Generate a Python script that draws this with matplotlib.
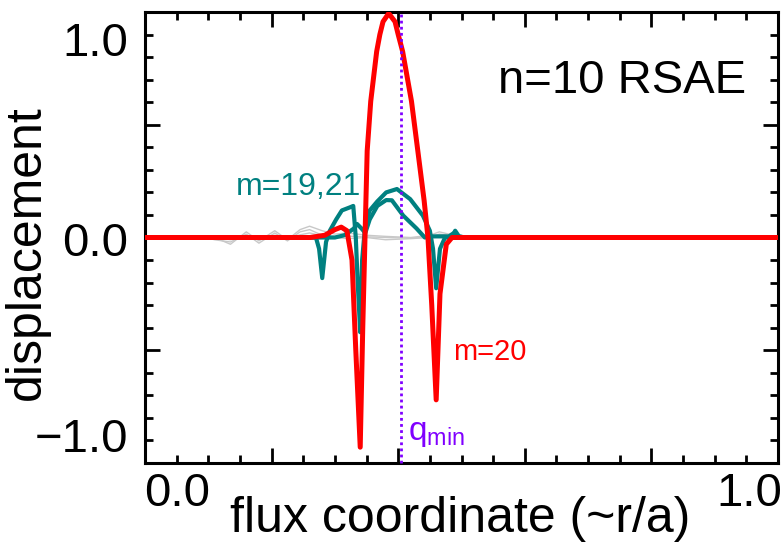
import matplotlib
matplotlib.use('Agg')
import matplotlib.pyplot as plt
from matplotlib.ticker import MultipleLocator

plt.rcParams['font.family'] = ['Liberation Sans', 'DejaVu Sans']
plt.rcParams['mathtext.fontset'] = 'custom'
plt.rcParams['mathtext.rm'] = 'Liberation Sans'
plt.rcParams['mathtext.it'] = 'Liberation Sans'

# ---- data (flux coordinate, displacement) ----
red_x = [0.0, 0.261, 0.284, 0.300, 0.310, 0.319, 0.327, 0.333, 0.340, 0.344,
         0.349, 0.351, 0.3566, 0.366, 0.371, 0.376, 0.385, 0.395, 0.400, 0.407,
         0.421, 0.431, 0.441, 0.447, 0.453, 0.460, 0.466, 0.476, 0.485, 1.0]
red_y = [0.0, 0.0, 0.01, 0.035, 0.046, 0.03, -0.1, -0.5, -0.93, -0.4,
         0.163, 0.384, 0.604, 0.825, 0.90, 0.957, 0.994, 0.957, 0.90, 0.825,
         0.604, 0.384, 0.163, 0.0, -0.3, -0.72, -0.25, -0.03, 0.0, 0.0]

tealA_x = [0.0, 0.270, 0.275, 0.280, 0.286, 0.292, 0.302, 0.311, 0.324, 0.329,
           0.333, 0.336, 0.340, 0.343, 0.348, 0.355, 0.367, 0.381, 0.398, 0.419,
           0.439, 0.450, 0.455, 0.460, 0.466, 0.474, 0.485, 0.490, 0.496, 0.506, 1.0]
tealA_y = [0.0, 0.0, -0.05, -0.18, -0.02, 0.03, 0.08, 0.12, 0.134, 0.14,
           0.0, -0.2, -0.42, -0.1, 0.06, 0.12, 0.16, 0.2, 0.215, 0.17,
           0.097, 0.03, -0.05, -0.225, -0.05, 0.0, 0.0, 0.03, 0.005, 0.0, 0.0]

tealB_x = [0.0, 0.300, 0.315, 0.330, 0.335, 0.342, 0.348, 0.355, 0.367, 0.381,
           0.390, 0.408, 0.429, 0.442, 0.455, 0.480, 0.488, 0.495, 0.505, 1.0]
tealB_y = [0.0, 0.0, 0.01, 0.04, 0.06, 0.04, 0.02, 0.08, 0.14, 0.166,
           0.165, 0.097, 0.04, 0.0, 0.005, 0.005, 0.02, 0.005, 0.0, 0.0]

gray_x = [0.095, 0.11, 0.135, 0.16, 0.18, 0.205, 0.225, 0.245, 0.26, 0.28,
          0.30, 0.32, 0.35, 0.38, 0.42, 0.45, 0.465, 0.48, 0.50, 0.53]
gray1_y = [0.0, 0.0, -0.03, 0.025, -0.015, 0.03, -0.01, 0.035, 0.05, 0.03,
           0.015, 0.02, 0.01, 0.005, 0.0, 0.01, 0.025, 0.015, 0.005, 0.0]
gray2_y = [0.0, -0.01, -0.02, 0.015, -0.025, 0.02, -0.015, 0.025, 0.035, 0.01,
           0.0, -0.005, 0.0, -0.01, -0.005, 0.0, 0.015, 0.01, 0.0, 0.0]
gray3_y = [0.0, 0.0, -0.01, 0.008, -0.008, 0.01, -0.005, 0.012, 0.02, 0.008,
           0.004, 0.006, 0.003, 0.0, -0.003, 0.004, 0.01, 0.004, 0.0, 0.0]

q_min = 0.404

W, H = 784, 547
fig = plt.figure(figsize=(W/100, H/100), dpi=100)
ax = fig.add_axes([145/W, 1-463/H, 633/W, 451/H])

for gy in (gray1_y, gray2_y, gray3_y):
    ax.plot(gray_x, gy, color='#c8c8c8', lw=1.0, zorder=1)
ax.plot(tealA_x, tealA_y, color='#008080', lw=3.0, zorder=2)
ax.plot(tealB_x, tealB_y, color='#008080', lw=3.0, zorder=2)
ax.plot(red_x, red_y, color='#ff0000', lw=3.6, zorder=3)
ax.axvline(q_min, color='#8000ff', lw=2.0, linestyle=(0, (1, 1.2)), zorder=4, clip_on=False)

ax.set_xlim(0, 1)
ax.set_ylim(-1.0, 1.0)
ax.xaxis.set_major_locator(MultipleLocator(0.2))
ax.xaxis.set_minor_locator(MultipleLocator(0.05))
ax.yaxis.set_major_locator(MultipleLocator(0.5))
ax.yaxis.set_minor_locator(MultipleLocator(0.1))
ax.tick_params(which='both', direction='in', top=True, right=True,
               labelbottom=False, labelleft=False, width=2)
ax.tick_params(which='major', length=11)
ax.tick_params(which='minor', length=6)
for s in ax.spines.values():
    s.set_linewidth(2.2)

fs = 34
ytr = ax.get_yaxis_transform()
# tick labels (inset positions as in the original)
ax.text(-0.027, 0.86, '1.0', transform=ytr, ha='right', va='center', fontsize=fs)
ax.text(-0.027, -0.027, '0.0', transform=ytr, ha='right', va='center', fontsize=fs)
ax.text(-0.027, -0.9, '\u22121.0', transform=ytr, ha='right', va='center', fontsize=fs)
ax.text(0.05, -0.068, '0.0', transform=ax.transAxes, ha='center', va='center', fontsize=fs)
ax.text(0.955, -0.068, '1.0', transform=ax.transAxes, ha='center', va='center', fontsize=fs)

# axis titles
fig.text(460.5/W, 1-532/H, 'flux coordinate (~r/a)', ha='center', va='baseline', fontsize=36)
fig.text(27/W, 1-253/H, 'displacement', rotation=90, ha='center', va='center', fontsize=36)

ax.text(0.95, 0.847, 'n=10 RSAE', transform=ax.transAxes, ha='right', va='center', fontsize=fs)
ax.text(0.243, 0.225, 'm=19,21', color='#008080', ha='center', va='center', fontsize=23)
ax.text(0.545, -0.507, 'm=20', color='#ff0000', ha='center', va='center', fontsize=21)
ax.text(0.415, -0.87, r'q$_{\rm min}$', color='#8000ff', ha='left', va='center', fontsize=24)

fig.savefig('out.png', dpi=100)
